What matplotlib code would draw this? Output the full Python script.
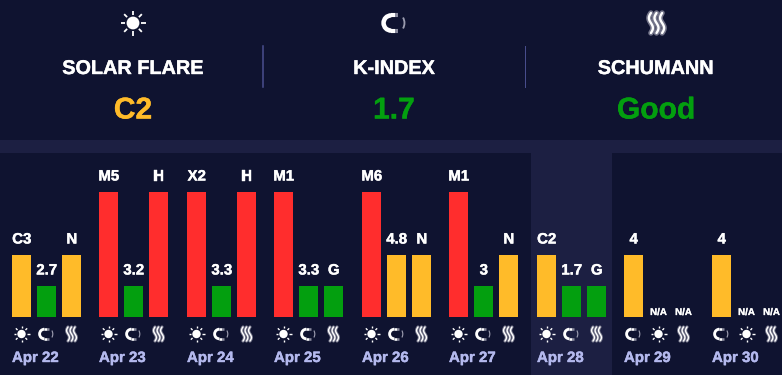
import numpy as np
import matplotlib
matplotlib.use("Agg")
import matplotlib.pyplot as plt
import matplotlib.patheffects as pe
from matplotlib.patches import Circle, Arc, Rectangle

dates = ["Apr 22", "Apr 23", "Apr 24", "Apr 25", "Apr 26", "Apr 27", "Apr 28", "Apr 29", "Apr 30"]
solar_labels = ["C3", "M5", "X2", "M1", "M6", "M1", "C2", "4", "4"]
kindex_labels = ["2.7", "3.2", "3.3", "3.3", "4.8", "3", "1.7", "N/A", "N/A"]
schumann_labels = ["N", "H", "H", "G", "N", "N", "G", "N/A", "N/A"]
solar_levels = [62, 125, 125, 125, 125, 125, 62, 62, 62]
kindex_levels = [31, 31, 31, 31, 62, 31, 31, 0, 0]
schumann_levels = [62, 125, 125, 31, 62, 62, 31, 0, 0]
level_colors = {31: "#039F0F", 62: "#FFBB29", 125: "#FF2D2D"}
icon_order = [("sun", "magnet", "wave")] * 7 + [("magnet", "sun", "wave")] * 2
header_titles = ["SOLAR FLARE", "K-INDEX", "SCHUMANN"]
header_values = ["C2", "1.7", "Good"]
header_colors = ["#FFBB29", "#039F0F", "#039F0F"]
group_starts = [12, 99, 187, 274, 362, 449, 537, 624, 712]

BG = "#0F1330"
BAND = "#1C1F42"
FONT = "Liberation Sans"

fig = plt.figure(figsize=(7.82, 3.75), dpi=100, facecolor=BG)
ax = fig.add_axes([0, 0, 1, 1])
ax.set_xlim(0, 782)
ax.set_ylim(375, 0)
ax.axis("off")


def label(x, y, s, color, size, ha="center", stroke=0.3):
    ax.text(x, y, s, color=color, fontsize=size, fontweight="bold", family=FONT, ha=ha,
            va="center_baseline", zorder=3,
            path_effects=[pe.withStroke(linewidth=stroke, foreground=color)])


def sun(cx, cy, r, r1, r2, lw):
    ax.add_patch(Circle((cx, cy), r, fc="white", ec="none", zorder=4))
    for a in np.arange(8) * np.pi / 4:
        ax.plot([cx + r1 * np.cos(a), cx + r2 * np.cos(a)],
                [cy + r1 * np.sin(a), cy + r2 * np.sin(a)],
                color="white", lw=lw, solid_capstyle="butt", zorder=4)


def magnet(xc, cy, s):
    # thick C-shaped magnet opening to the right, with grey tips and a faint field arc
    cx = xc - 0.35 * s
    lw = 0.31 * s
    rad = 0.8 * s
    ax.add_patch(Arc((cx, cy), 2 * rad, 2 * rad, theta1=90, theta2=270, color="white", lw=lw * 1.1, zorder=4))
    for sign in (-1, 1):
        ax.plot([cx - 0.02 * s, xc + 0.1 * s], [cy + sign * rad, cy + sign * rad], color="white", lw=lw,
                solid_capstyle="butt", zorder=4)
        ax.plot([xc + 0.1 * s, xc + 0.35 * s], [cy + sign * rad, cy + sign * rad], color="#8A8B9E", lw=lw,
                solid_capstyle="butt", zorder=4)
    ax.add_patch(Arc((xc - 0.1 * s, cy), 2.3 * s, 2.3 * s, theta1=-30, theta2=30, color="#9A9BAE",
                     lw=0.14 * s, zorder=4))


def wave(cx, cy, h, spacing, lw):
    t = np.linspace(-1, 1, 50)
    for dx in (-spacing, 0, spacing):
        xs = cx + dx + 0.1 * h * np.sin(t * np.pi)
        ax.plot(xs, cy + t * h / 2, color="#74758A", lw=lw * 2.3, solid_capstyle="round", zorder=4)
    for dx in (-spacing, 0, spacing):
        xs = cx + dx + 0.1 * h * np.sin(t * np.pi)
        ax.plot(xs, cy + t * h / 2, color="white", lw=lw, solid_capstyle="round", zorder=4)


def icon(kind, cx, cy):
    if kind == "sun":
        sun(cx, cy, 4.2, 5.6, 8.0, 1.0)
    elif kind == "magnet":
        magnet(cx, cy, 6.0)
    else:
        wave(cx, cy, 14, 3.5, 1.0)


# background bands
ax.add_patch(Rectangle((0, 140), 782, 13, fc=BAND, ec="none", zorder=0))
ax.add_patch(Rectangle((531, 153), 81, 222, fc=BAND, ec="none", zorder=0))

# header
centers = [133, 394, 656]
for cx, title, value, color in zip(centers, header_titles, header_values, header_colors):
    label(cx, 66.5, title, "white", 14.3)
    label(cx, 107.5, value, color, 21.6)
ax.plot([263, 263], [46, 87], color="#4A4F8F", lw=1.1)
ax.plot([524.5, 524.5], [46, 87], color="#4A4F8F", lw=0.7)
sun(133, 23, 6.4, 8.3, 12.5, 1.3)
magnet(394.5, 23, 9.5)
wave(656.5, 23, 20, 5.6, 1.7)

# bars
BAR_W = 19
OFFS = [0, 25, 50]
BASE = 317
for i, date in enumerate(dates):
    x0 = group_starts[i]
    heights = [solar_levels[i], kindex_levels[i], schumann_levels[i]]
    labels = [solar_labels[i], kindex_labels[i], schumann_labels[i]]
    for off, h, lab, kind in zip(OFFS, heights, labels, icon_order[i]):
        xc = x0 + off + BAR_W / 2
        if h:
            ax.bar(xc, -h, bottom=BASE, width=BAR_W, color=level_colors[h], zorder=2)
        if lab == "N/A":
            label(xc, 311, lab, "white", 7.0, stroke=0.2)
        else:
            label(xc + 0.25, BASE - h - 17, lab, "white", 10.8)
        icon(kind, xc, 334)
    label(x0, 356.5, date, "#B4B9EE", 10.8, ha="left")

ax.set_xlim(0, 782)
ax.set_ylim(375, 0)
fig.savefig("out.png", dpi=100, facecolor=BG)
